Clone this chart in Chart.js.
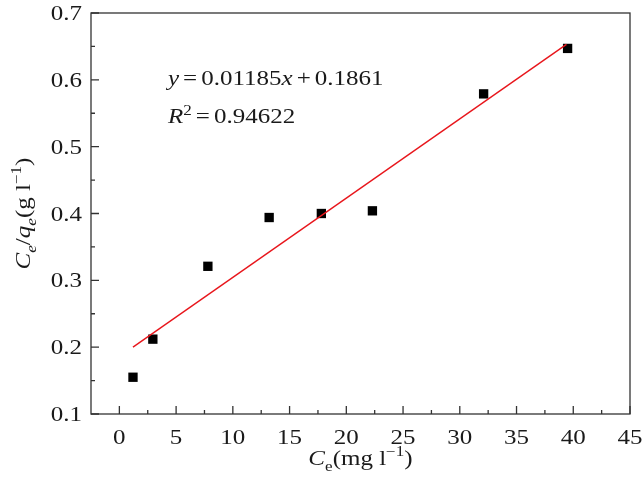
<!DOCTYPE html>
<html lang="en">
<head>
    <meta charset="UTF-8">
    <title>Ce/qe vs Ce</title>
    <script src="https://cdn.jsdelivr.net/npm/chart.js"></script>
    <style>
        body { margin: 0; background: #fff; }
        #wrap { width: 644px; height: 492px; }
    </style>
</head>
<body>
    <div id="wrap"><canvas id="isoChart" width="644" height="492"></canvas></div>

    <script>
        // measured points
        const ceValues = [1.2, 2.95, 7.8, 13.2, 17.8, 22.3, 32.1, 39.5];
        const ratioValues = [0.155, 0.212, 0.321, 0.394, 0.400, 0.404, 0.579, 0.647];

        // fitted line ends
        const fitX = [1.2, 39.4];
        const fitY = [0.200, 0.653];

        const xTicks = [0, 5, 10, 15, 20, 25, 30, 35, 40, 45];
        const xMinor = [2.5, 7.5, 12.5, 17.5, 22.5, 27.5, 32.5, 37.5, 42.5];
        const yTicks = [0.1, 0.2, 0.3, 0.4, 0.5, 0.6, 0.7];
        const yMinor = [0.15, 0.25, 0.35, 0.45, 0.55, 0.65];

        const serif = '"Liberation Serif", "DejaVu Serif", serif';
        const ink = '#1a1a1a';
        const SX = 1.22; // the figure's type is drawn a bit wide

        // text made of pieces (italic, sub/superscript), stretched by SX
        function richText(ctx, parts, x, y, align) {
            let total = 0;
            parts.forEach(p => {
                if (p.gap) { total += p.gap; return; }
                ctx.font = p.font; total += ctx.measureText(p.t).width * SX;
            });
            let cx = align === 'center' ? x - total / 2 : (align === 'right' ? x - total : x);
            parts.forEach(p => {
                if (p.gap) { cx += p.gap; return; }
                ctx.font = p.font;
                ctx.save();
                ctx.translate(cx, y + (p.dy || 0));
                ctx.scale(SX, 1);
                ctx.fillText(p.t, 0, 0);
                ctx.restore();
                cx += ctx.measureText(p.t).width * SX;
            });
        }

        const frame = {
            id: 'frame',
            afterDraw(chart) {
                const { ctx, chartArea: a, scales: { x, y } } = chart;
                ctx.save();
                ctx.strokeStyle = '#333';
                ctx.lineWidth = 1.3;
                ctx.strokeRect(a.left, a.top, a.right - a.left, a.bottom - a.top);

                // inward ticks
                ctx.beginPath();
                xTicks.forEach(v => { const px = x.getPixelForValue(v); ctx.moveTo(px, a.bottom); ctx.lineTo(px, a.bottom - 8); });
                xMinor.forEach(v => { const px = x.getPixelForValue(v); ctx.moveTo(px, a.bottom); ctx.lineTo(px, a.bottom - 4); });
                yTicks.forEach(v => { const py = y.getPixelForValue(v); ctx.moveTo(a.left, py); ctx.lineTo(a.left + 8, py); });
                yMinor.forEach(v => { const py = y.getPixelForValue(v); ctx.moveTo(a.left, py); ctx.lineTo(a.left + 4, py); });
                ctx.stroke();

                ctx.fillStyle = ink;
                ctx.textBaseline = 'alphabetic';
                ctx.textAlign = 'left';
                const it = 'italic 20.5px ' + serif, rg = '20.5px ' + serif;
                const sm = '14px ' + serif, smi = 'italic 14px ' + serif;

                // tick labels
                xTicks.forEach(v => {
                    richText(ctx, [{ t: String(v), font: rg }], x.getPixelForValue(v), a.bottom + 29.5, 'center');
                });
                yTicks.forEach(v => {
                    richText(ctx, [{ t: v.toFixed(1), font: rg }], a.left - 9, y.getPixelForValue(v) + 7, 'right');
                });

                // fit equation
                richText(ctx, [
                    { t: 'y', font: it }, { gap: 4 }, { t: '=', font: rg }, { gap: 4 }, { t: '0.01185', font: rg },
                    { t: 'x', font: it }, { gap: 4 }, { t: '+', font: rg }, { gap: 4 }, { t: '0.1861', font: rg }
                ], 168, 85, 'left');
                richText(ctx, [
                    { t: 'R', font: it }, { t: '2', font: sm, dy: -8 }, { gap: 4 }, { t: '=', font: rg }, { gap: 4 }, { t: '0.94622', font: rg }
                ], 168, 123, 'left');

                // x title
                richText(ctx, [
                    { t: 'C', font: it }, { t: 'e', font: sm, dy: 6 }, { t: '(mg l', font: rg },
                    { t: '\u22121', font: sm, dy: -9 }, { t: ')', font: rg }
                ], (a.left + a.right) / 2, 465, 'center');

                // y title, rotated
                ctx.translate(30, (a.top + a.bottom) / 2);
                ctx.rotate(-Math.PI / 2);
                richText(ctx, [
                    { t: 'C', font: it }, { t: 'e', font: smi, dy: 6 }, { t: '/', font: rg },
                    { t: 'q', font: it }, { t: 'e', font: smi, dy: 6 }, { t: '(g l', font: rg },
                    { t: '\u22121', font: sm, dy: -9 }, { t: ')', font: rg }
                ], 0, 0, 'center');
                ctx.restore();
            }
        };

        const ctx = document.getElementById('isoChart').getContext('2d');
        const isoChart = new Chart(ctx, {
            data: {
                datasets: [{
                    type: 'scatter',
                    data: ceValues.map((v, i) => ({ x: v, y: ratioValues[i] })),
                    pointStyle: 'rect',
                    pointRadius: 6.6,
                    pointBorderWidth: 0,
                    backgroundColor: '#000',
                    borderColor: '#000',
                    order: 2
                }, {
                    type: 'line',
                    data: fitX.map((v, i) => ({ x: v, y: fitY[i] })),
                    borderColor: '#e8161c',
                    borderWidth: 1.4,
                    pointRadius: 0,
                    tension: 0,
                    order: 1
                }]
            },
            options: {
                responsive: false,
                animation: false,
                layout: { padding: { top: 13, right: 14, left: 0, bottom: 0 } },
                plugins: { legend: { display: false }, tooltip: { enabled: false } },
                scales: {
                    x: {
                        type: 'linear',
                        min: -2.5,
                        max: 45,
                        afterBuildTicks: s => { s.ticks = xTicks.map(v => ({ value: v })); },
                        afterFit: s => { s.height = 78; },
                        grid: { display: false },
                        border: { display: false },
                        ticks: { display: false }
                    },
                    y: {
                        min: 0.1,
                        max: 0.7,
                        afterBuildTicks: s => { s.ticks = yTicks.map(v => ({ value: v })); },
                        afterFit: s => { s.width = 91; },
                        grid: { display: false },
                        border: { display: false },
                        ticks: { display: false }
                    }
                }
            },
            plugins: [frame]
        });
    </script>
</body>
</html>
